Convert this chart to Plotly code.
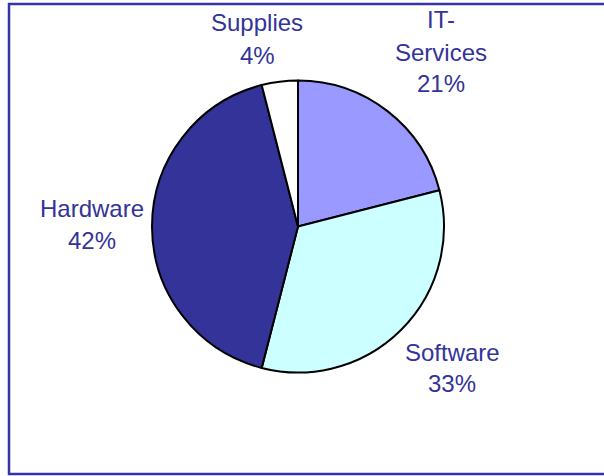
import plotly.graph_objects as go

labels = ["IT-Services", "Software", "Hardware", "Supplies"]
values = [21, 33, 42, 4]
colors = ["#9999FF", "#CCFFFF", "#333399", "#FFFFFF"]

W, H = 604, 476
# label line positions in pixels (x center, y centers of each line)
label_pos = {
    "IT-Services": (441, [20, 52, 83]),
    "Software": (452, [352, 383]),
    "Hardware": (92, [208, 240]),
    "Supplies": (257, [22, 55]),
}

cx, cy, r = 298, 226.5, 146

fig = go.Figure(go.Pie(
    labels=labels, values=values, sort=False, direction="clockwise",
    rotation=0, marker=dict(colors=colors, line=dict(color="black", width=2)),
    textinfo="none", hoverinfo="label+percent", showlegend=False,
    domain=dict(x=[(cx - r) / W, (cx + r) / W], y=[1 - (cy + r) / H, 1 - (cy - r) / H]),
))

annotations = []
for lab, val in zip(labels, values):
    x, ys = label_pos[lab]
    lines = lab.replace("-", "-\n").split("\n") + [f"{val}%"]
    for line, y in zip(lines, ys):
        annotations.append(dict(
            x=x / W, y=1 - y / H, xref="paper", yref="paper", text=line,
            showarrow=False, xanchor="center", yanchor="middle",
            font=dict(family="Liberation Sans, Arial", size=24, color="#333399"),
        ))

fig.update_layout(
    width=W, height=H, margin=dict(l=0, r=0, t=0, b=0),
    paper_bgcolor="white", plot_bgcolor="white",
    annotations=annotations,
    shapes=[dict(type="rect", xref="paper", yref="paper",
                 x0=9 / W, x1=1.02, y0=1 - 474 / H, y1=1 - 4 / H,
                 line=dict(color="#3333AA", width=2.5))],
)
fig.write_html("out.html")
